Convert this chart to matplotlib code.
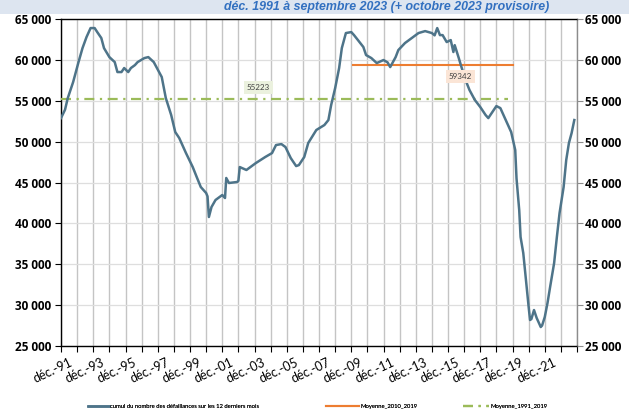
import matplotlib
matplotlib.use("Agg")
import matplotlib.pyplot as plt
import matplotlib.transforms as mtransforms
from matplotlib.lines import Line2D
import pandas as pd

# ---- data ----
months = ["1991-12", "1992-03", "1992-05", "1992-09", "1993-01", "1993-04", "1993-07", "1993-10",
          "1994-01", "1994-03", "1994-06", "1994-08", "1994-12", "1995-04", "1995-06", "1995-09",
          "1995-11", "1996-02", "1996-04", "1996-07", "1996-09", "1997-02", "1997-05", "1997-09",
          "1998-03", "1998-06", "1998-10", "1999-01", "1999-04", "1999-09", "2000-02", "2000-05",
          "2000-08", "2000-12", "2001-01", "2001-02", "2001-04", "2001-07", "2001-12", "2002-02",
          "2002-03", "2002-05", "2002-11", "2002-12", "2003-01", "2003-06", "2004-01", "2004-08",
          "2005-01", "2005-04", "2005-08", "2005-11", "2006-03", "2006-07", "2006-09", "2007-01",
          "2007-04", "2007-10", "2008-04", "2008-07", "2008-09", "2008-12", "2009-03", "2009-05",
          "2009-08", "2009-12", "2010-02", "2010-05", "2010-09", "2010-11", "2011-03", "2011-07",
          "2011-12", "2012-03", "2012-05", "2012-09", "2012-11", "2013-04", "2013-09", "2014-02",
          "2014-07", "2014-12", "2015-02", "2015-04", "2015-06", "2015-08", "2015-11", "2016-02",
          "2016-04", "2016-05", "2016-08", "2016-10", "2017-01", "2017-04", "2017-08", "2017-12",
          "2018-04", "2018-06", "2018-09", "2018-12", "2019-03", "2019-07", "2019-11", "2020-02",
          "2020-03", "2020-05", "2020-06", "2020-08", "2020-10", "2020-12", "2021-01", "2021-02",
          "2021-04", "2021-06", "2021-09", "2021-10", "2021-12", "2022-02", "2022-04", "2022-07",
          "2022-09", "2022-11", "2023-02", "2023-04", "2023-06", "2023-08", "2023-10"]
defaillances = [52880, 53900, 55300, 57290, 59730, 61440, 62790, 63890,
                63890, 63400, 62670, 61440, 60340, 59730, 58510, 58510,
                59000, 58510, 59000, 59360, 59730, 60220, 60340, 59730,
                57900, 55330, 53250, 51170, 50440, 48600, 46890, 45670,
                44450, 43710, 43300, 40780, 42000, 42860, 43470, 43100,
                45550, 44940, 45060, 45200, 46890, 46530, 47380, 48120,
                48600, 49580, 49700, 49340, 47990, 47010, 47130, 48120,
                49830, 51420, 52030, 52640, 54470, 56550, 59000, 61440,
                63280, 63400, 63030, 62420, 61570, 60590, 60220, 59610,
                59980, 59700, 59120, 60340, 61200, 62060, 62670, 63280,
                63520, 63280, 63000, 63890, 63030, 63030, 62180, 62420,
                60960, 61800, 60220, 59120, 57530, 56310, 55090, 54230,
                53250, 52880, 53620, 54350, 54100, 52640, 51170, 48970,
                45500, 41630, 38330, 36370, 33070, 29770, 28180, 28300,
                29400, 28420, 27320, 27500, 28550, 30260, 32220, 35150,
                38330, 41270, 44450, 47750, 49830, 51050, 52640]

moy_2010_2019_period = ["2010-01", "2019-12"]
moy_2010_2019 = 59342
moy_1991_2019_period = ["1991-12", "2019-09"]
moy_1991_2019 = 55223

tick_years = list(range(1991, 2022, 2))
tick_labels = [f"déc.-{y % 100:02d}" for y in tick_years]
y_ticks = list(range(25000, 65001, 5000))
y_tick_labels = [f"{v // 1000} 000" for v in y_ticks]

title_text = "déc. 1991 à septembre 2023 (+ octobre 2023 provisoire)"
legend_labels = ["cumul du nombre des défaillances sur les 12 derniers mois",
                 "Moyenne_2010_2019", "Moyenne_1991_2019"]

# ---- figure ----
plt.rcParams['font.family'] = ['Lato', 'DejaVu Sans']
fig = plt.figure(figsize=(6.29, 4.12), dpi=100)
fig.patch.set_facecolor("white")

# title strip
fig.patches.append(plt.Rectangle((0, 1 - 14 / 412), 1, 14 / 412, transform=fig.transFigure,
                                 facecolor="#dde5f0", edgecolor="none", zorder=0))
fig.text(387 / 629, 1 - 10 / 412, title_text, ha="center", va="baseline", fontsize=8.9,
         fontweight="bold", fontstyle="italic", color="#3270c0",
         family=["Liberation Sans", "DejaVu Sans"])

ax = fig.add_axes([61 / 629, 1 - 346 / 412, (577 - 61) / 629, (346 - 19) / 412])

dates = pd.to_datetime(months)
grid_years = list(range(1991, 2024))
ax.set_xlim(pd.Timestamp("1991-12-01"), pd.Timestamp("2023-11-20"))
ax.set_ylim(25000, 65000)

# grid
for y in grid_years:
    ax.axvline(pd.Timestamp(f"{y}-12-01"), color="#c4c4c4", lw=1.0, zorder=1)
for v in y_ticks:
    ax.axhline(v, color="#dedede", lw=0.9, zorder=1)

main_color = "#4e7489"
orange = "#ed7d31"
green = "#9bbb59"
green_ls = (0, (4.5, 2.5, 1, 2.5))

ax.plot(dates, defaillances, color=main_color, lw=1.8, zorder=4, solid_joinstyle="round")
d2 = pd.to_datetime(moy_2010_2019_period)
ax.plot(d2, [moy_2010_2019] * 2, color=orange, lw=1.5, zorder=3)
d3 = pd.to_datetime(moy_1991_2019_period)
ax.plot(d3, [moy_1991_2019] * 2, color=green, lw=1.6, zorder=3, linestyle=green_ls)

# value labels
ax.text(pd.Timestamp("2004-03-01"), moy_1991_2019 + 1400, f"{moy_1991_2019}", fontsize=5.8,
        ha="center", va="center", color="#404040", zorder=5,
        bbox=dict(boxstyle="square,pad=0.35", facecolor="#ebf1de", edgecolor="none"))
ax.text(pd.Timestamp("2016-09-01"), moy_2010_2019 - 1400, f"{moy_2010_2019}", fontsize=5.8,
        ha="center", va="center", color="#404040", zorder=5,
        bbox=dict(boxstyle="square,pad=0.35", facecolor="#fbe5d6", edgecolor="none"))

# x axis ticks (labels drawn as rotated texts anchored at their top-right corner)
tick_dates = [pd.Timestamp(f"{y}-12-01") for y in tick_years]
ax.set_xticks(tick_dates)
ax.set_xticks([pd.Timestamp(f"{y}-12-01") for y in grid_years], minor=True)
ax.set_xticklabels([])
ax.tick_params(axis="x", which="both", direction="out", length=4, width=0.8, color="#000000")
lab_tr = ax.get_xaxis_transform() + mtransforms.ScaledTranslation(8 / 100, -10 / 100,
                                                                   fig.dpi_scale_trans)
for d, lab in zip(tick_dates, tick_labels):
    ax.text(d, 0, lab, transform=lab_tr, rotation=25, rotation_mode="anchor",
            ha="right", va="top", fontsize=9, color="#000000", clip_on=False)

ax.set_yticks(y_ticks)
ax.set_yticklabels(y_tick_labels, fontsize=8.5, fontweight="bold",
                   family=["Open Sans", "DejaVu Sans"])
ax.tick_params(axis="y", direction="out", length=4, width=0.8, pad=3)

for side in ["left", "bottom", "top"]:
    ax.spines[side].set_color("#000000")
    ax.spines[side].set_linewidth(1.0)
ax.spines["right"].set_color("#8c8c8c")
ax.spines["right"].set_linewidth(1.0)

ax2 = ax.twinx()
ax2.set_ylim(25000, 65000)
ax2.set_yticks(y_ticks)
ax2.set_yticklabels(y_tick_labels, fontsize=8.5, fontweight="bold",
                    family=["Open Sans", "DejaVu Sans"])
ax2.tick_params(axis="y", direction="out", length=4, width=0.8, color="#8c8c8c", pad=2)
for s in ax2.spines.values():
    s.set_visible(False)

# legend: three separate entries at their reference positions
fs_leg = 4.2
leg_specs = [
    (Line2D([], [], color=main_color, lw=1.8), legend_labels[0], 88, 3.6),
    (Line2D([], [], color=orange, lw=1.5), legend_labels[1], 326, 5.7),
    (Line2D([], [], color=green, lw=1.6, linestyle=green_ls), legend_labels[2], 463, 4.5),
]
for handle, label, x0, hl in leg_specs:
    lg = fig.legend([handle], [label], loc="center left",
                    bbox_to_anchor=(x0 / 629, 1 - 406 / 412), frameon=False,
                    fontsize=fs_leg, handlelength=hl, handletextpad=0.25,
                    borderpad=0, borderaxespad=0)
    fig.add_artist(lg)

fig.savefig("out.png", dpi=100)
